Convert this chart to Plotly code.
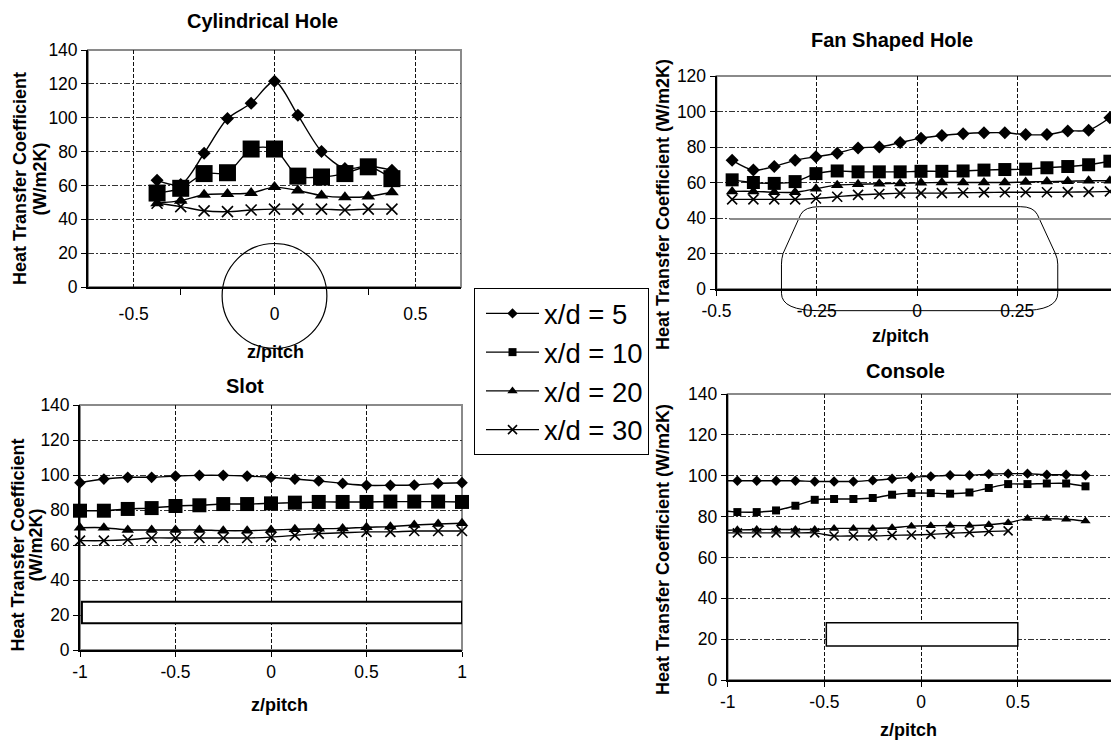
import plotly.graph_objects as go

W, H = 1119, 743
OFF = 8  # the page body adds an 8 px margin; figure coordinates are shifted by it
FW, FH = W - OFF, H - OFF

# ---------------- data ----------------
series_names = ["x/d = 5", "x/d = 10", "x/d = 20", "x/d = 30"]

# Cylindrical Hole
cyl_z = [-0.417, -0.333, -0.25, -0.167, -0.083, 0.0, 0.083, 0.167, 0.25, 0.333, 0.417]
cyl_xd5 = [63, 60.5, 79, 99.5, 108.5, 121.5, 101.5, 80, 70, 71.5, 69]
cyl_xd10 = [55.5, 58.3, 67, 67.5, 81.5, 81.5, 65.5, 65, 67, 71, 64]
cyl_xd20 = [49.5, 51, 54.5, 55, 55.5, 59, 57, 54, 53, 53.5, 56]
cyl_xd30 = [49.5, 47.5, 45, 44.5, 45.5, 46, 46, 46, 45.5, 46, 46]

# Fan Shaped Hole
fan_z = [-0.461, -0.408, -0.356, -0.304, -0.252, -0.199, -0.147, -0.094, -0.042, 0.010,
         0.062, 0.115, 0.167, 0.219, 0.271, 0.324, 0.376, 0.428, 0.481]
fan_xd5 = [72.5, 67, 69, 72.5, 74.5, 76.5, 79.5, 80, 82.5, 85, 86.5, 87.5, 88, 88, 87, 87, 89, 89.5, 96.5]
fan_xd10 = [61.5, 60, 59.5, 60.5, 65, 66.5, 66, 66, 66, 66.3, 66.3, 66.5, 67, 67.3, 67.5, 68.3, 69, 70, 72]
fan_xd20 = [55, 55, 54.5, 54.5, 56.5, 58.5, 59, 59.3, 59.5, 59.8, 60, 60, 60, 60, 60.3, 60.5, 60.7, 61, 61]
fan_xd30 = [50.5, 50.5, 50.5, 50.5, 51, 52, 53, 53.5, 54, 54, 54, 54.2, 54.4, 54.5, 54.5, 54.5, 54.6, 54.7, 55]

# Slot
slot_z = [-1, -0.875, -0.75, -0.625, -0.5, -0.375, -0.25, -0.125, 0, 0.125, 0.25, 0.375,
          0.5, 0.625, 0.75, 0.875, 1]
slot_xd5 = [95.6, 97.7, 98.7, 98.7, 99.4, 99.8, 99.8, 99.4, 98.7, 97.7, 96.6, 95.2, 94.1, 94.1, 94.3, 95.2, 95.6]
slot_xd10 = [79.6, 79.6, 80.6, 81.1, 82.3, 82.7, 83.4, 83.4, 83.8, 84.2, 84.6, 84.6, 84.6, 84.8, 84.8, 84.8, 84.6]
slot_xd20 = [69.9, 69.9, 68.6, 68.6, 68.6, 68.6, 68.2, 68.2, 68.6, 69, 69.3, 69.5, 70.1, 70.5, 71.4, 72, 72.4]
slot_xd30 = [62.5, 62.5, 63, 64, 64, 64, 64, 64, 64.5, 65.5, 66.5, 67, 67.5, 67.5, 68, 68, 68]

# Console
con_z = [-0.95, -0.85, -0.75, -0.65, -0.55, -0.45, -0.35, -0.25, -0.15, -0.05, 0.05,
         0.15, 0.25, 0.35, 0.45, 0.55, 0.65, 0.75, 0.85]
con_xd5 = [97.5, 97.5, 97.5, 97.5, 97.2, 97.2, 97.2, 97.7, 98.5, 99.3, 99.7, 100.2, 100.2,
           100.8, 101, 101, 100.5, 100.5, 100.2]
con_xd10 = [82.2, 82.2, 83, 85.3, 88.2, 88.6, 88.6, 89.1, 90.7, 91.5, 91.5, 91.2, 91.8, 94,
            95.9, 95.9, 96.2, 96.2, 94.8]
con_xd20 = [73.5, 73.7, 73.7, 73.7, 73.7, 74.2, 74.2, 74.2, 74.5, 75.3, 75.5, 75.6, 75.6, 76,
            77, 79, 79, 78.7, 77.8]
con_xd30 = [72, 72, 72, 72, 72, 70.5, 70.5, 70.5, 70.8, 71, 71.3, 71.8, 72.2, 72.7, 73]
# line lead-in from the axis (x = -1) to the first console point
con_lead_z = [-1.0, -0.95]
con_lead = {"x/d = 5": [97.5, 97.5], "x/d = 10": [82.6, 82.2],
            "x/d = 20": [73.3, 73.5], "x/d = 30": [72, 72]}

# ---------------- layout geometry (page pixels) ----------------
panels = {
    "cyl": dict(ax="", xpx=(88, 461), ypx=(50, 287), xr=(-0.6623, 0.6623), yr=(0, 140)),
    "fan": dict(ax="2", xpx=(716.5, 1117.5), ypx=(76, 289), xr=(-0.5, 0.5), yr=(0, 120)),
    "slot": dict(ax="3", xpx=(80, 462), ypx=(405, 650), xr=(-1, 1), yr=(0, 140)),
    "con": dict(ax="4", xpx=(727.7, 1114.5), ypx=(394, 680), xr=(-1, 1), yr=(0, 140)),
}


def px2paper(x, y):
    return (x - OFF) / FW, 1 - (y - OFF) / FH


def d2p(panel, x, y):
    p = panels[panel]
    (xa, xb), (ya, yb) = p["xpx"], p["ypx"]
    (r0, r1), (s0, s1) = p["xr"], p["yr"]
    px = xa + (x - r0) / (r1 - r0) * (xb - xa)
    py = yb - (y - s0) / (s1 - s0) * (yb - ya)
    return px2paper(px, py)


FONT = "Liberation Sans, Arial, sans-serif"
fig = go.Figure()

symbols = ["diamond", "square", "triangle-up", "x-thin"]


def add_series(panel, z, ys, sizes, legend=False, lead=None):
    ax = panels[panel]["ax"]
    for name, y, sym, sz in zip(series_names, ys, symbols, sizes):
        zz = z[: len(y)]
        marker = dict(symbol=sym, size=sz, color="black",
                      line=dict(color="black", width=1.6 if sym == "x-thin" else 0))
        fig.add_trace(go.Scatter(
            x=zz, y=y, mode="lines+markers", name=name,
            line=dict(color="black", width=1.4, shape="spline", smoothing=0.8),
            marker=marker, xaxis="x" + ax, yaxis="y" + ax,
            showlegend=legend, legendgroup=name, cliponaxis=False,
        ))
    if lead:
        for name in series_names:
            fig.add_trace(go.Scatter(
                x=lead[0], y=lead[1][name], mode="lines",
                line=dict(color="black", width=1.4), xaxis="x" + ax, yaxis="y" + ax,
                showlegend=False, hoverinfo="skip",
            ))


add_series("cyl", cyl_z, [cyl_xd5, cyl_xd10, cyl_xd20, cyl_xd30], [10, 17, 12, 11])
add_series("fan", fan_z, [fan_xd5, fan_xd10, fan_xd20, fan_xd30], [10, 13, 11, 10])
add_series("slot", slot_z, [slot_xd5, slot_xd10, slot_xd20, slot_xd30], [9, 14, 11, 10])
add_series("con", con_z, [con_xd5, con_xd10, con_xd20, con_xd30], [8, 8, 9, 9],
           legend=True, lead=(con_lead_z, con_lead))

HGRID = "6px,2px,2px,2px"
VGRID = "4px,2px"

lx, ly = px2paper(474, 288)
layout = dict(
    template="none",
    width=FW, height=FH, margin=dict(l=0, r=0, t=0, b=0, autoexpand=False),
    paper_bgcolor="white", plot_bgcolor="rgba(0,0,0,0)",
    font=dict(family=FONT, color="black", size=17),
    showlegend=True,
    legend=dict(
        x=lx, y=ly, xanchor="left", yanchor="top",
        bgcolor="white", bordercolor="black", borderwidth=1,
        font=dict(family=FONT, size=27.5, color="black"),
        itemwidth=53, indentation=6, tracegroupgap=3, traceorder="normal",
    ),
)

tickfont = dict(family=FONT, size=17.5, color="black")
shapes = []
for key, p in panels.items():
    ax = p["ax"]
    xa, _ = px2paper(p["xpx"][0], 0)
    xb, _ = px2paper(p["xpx"][1], 0)
    _, ya = px2paper(0, p["ypx"][1])
    _, yb = px2paper(0, p["ypx"][0])
    xaxis = dict(domain=(xa, min(xb, 1.0)), range=list(p["xr"]), anchor="y" + ax,
                 showline=True, automargin=False,
                 linecolor="black", linewidth=1.8, ticks="outside", ticklen=5,
                 tickcolor="black", tickwidth=1.2, tickfont=tickfont, zeroline=False,
                 showgrid=True, gridcolor="#111", gridwidth=1, griddash=VGRID,
                 fixedrange=True)
    yaxis = dict(domain=(ya, yb), range=list(p["yr"]), anchor="x" + ax, showline=True,
                 automargin=False,
                 linecolor="black", linewidth=1.8, ticks="outside", ticklen=5,
                 tickcolor="black", tickwidth=1.2, tickfont=tickfont, zeroline=False,
                 showgrid=True, gridcolor="#333", gridwidth=1, griddash=HGRID,
                 tickmode="linear", tick0=0, dtick=20, fixedrange=True)
    if key == "cyl":
        xaxis.update(tickmode="array", tickvals=[-0.5, 0, 0.5], ticktext=["-0.5", "0", "0.5"],
                     ticks="", ticklabelstandoff=10,
                     minor=dict(tickmode="array", tickvals=[-1 / 3, 0, 1 / 3], ticks="outside",
                                ticklen=6, tickcolor="black", tickwidth=1.2, showgrid=False))
    elif key == "fan":
        xaxis.update(tickmode="array", tickvals=[-0.5, -0.25, 0, 0.25, 0.5],
                     ticktext=["-0.5", "-0.25", "0", "0.25", "0.5"])
    else:
        xaxis.update(tickmode="array", tickvals=[-1, -0.5, 0, 0.5, 1],
                     ticktext=["-1", "-0.5", "0", "0.5", "1"])
    layout["xaxis" + ax] = xaxis
    layout["yaxis" + ax] = yaxis
    # gray plot-area frame
    shapes.append(dict(type="rect", xref="x%s domain" % ax, yref="y%s domain" % ax,
                       x0=0, x1=1, y0=0, y1=1, line=dict(color="#8a8a8a", width=2),
                       layer="below"))

fig.update_layout(**layout)

# ---------- decorations: hole shapes ----------
cx0, cy0 = d2p("cyl", -0.186, -36.3)
cx1, cy1 = d2p("cyl", 0.186, 25.7)
shapes.append(dict(type="circle", xref="paper", yref="paper", x0=cx0, x1=cx1, y0=cy0, y1=cy1,
                   line=dict(color="black", width=1.2)))

fan_outline = [
    ("M", [(-0.2425, 46.4)]), ("L", [(0.2575, 46.4)]), ("Q", [(0.29, 46.4), (0.30, 42.0)]),
    ("L", [(0.345, 20.0)]), ("Q", [(0.351, 17.0), (0.351, 14.0)]), ("L", [(0.351, -2.4)]),
    ("Q", [(0.351, -12.2), (0.2575, -12.2)]), ("L", [(-0.2425, -12.2)]),
    ("Q", [(-0.338, -12.2), (-0.338, -2.4)]), ("L", [(-0.338, 14.0)]),
    ("Q", [(-0.338, 17.0), (-0.334, 20.0)]), ("L", [(-0.29, 42.0)]),
    ("Q", [(-0.28, 46.4), (-0.2425, 46.4)]),
]
path = ""
for cmd, pts in fan_outline:
    path += cmd + " " + " ".join("%.5f,%.5f" % d2p("fan", a, b) for a, b in pts) + " "
path += "Z"
shapes.append(dict(type="path", xref="paper", yref="paper", path=path,
                   line=dict(color="black", width=1)))
gx0, gy = d2p("fan", -0.4675, 39.4)
gx1, _ = d2p("fan", 0.5, 39.4)
shapes.append(dict(type="line", xref="paper", yref="paper", x0=gx0, x1=min(gx1, 1.0),
                   y0=gy, y1=gy, line=dict(color="#8c8c8c", width=2)))

shapes.append(dict(type="rect", xref="x3", yref="y3", x0=-0.99, x1=1.0, y0=15.3, y1=27.6,
                   fillcolor="white", line=dict(color="black", width=2)))
shapes.append(dict(type="rect", xref="x4", yref="y4", x0=-0.49, x1=0.5, y0=16.7, y1=28.0,
                   fillcolor="white", line=dict(color="black", width=1.5)))

fig.update_layout(shapes=shapes)

# ---------- titles ----------
ann = []


def text(s, x, y, size, angle=0):
    px, py = px2paper(x, y)
    ann.append(dict(text=s, x=px, y=py, xref="paper", yref="paper", showarrow=False,
                    xanchor="center", yanchor="middle", textangle=angle,
                    font=dict(family=FONT, size=size, color="black")))


text("<b>Cylindrical Hole</b>", 262, 21, 20)
text("<b>Fan Shaped Hole</b>", 892, 40, 20)
text("<b>Slot</b>", 245, 386, 20)
text("<b>Console</b>", 905, 371, 20)

text("<b>z/pitch</b>", 275, 352, 18)
text("<b>z/pitch</b>", 900, 336, 18)
text("<b>z/pitch</b>", 279, 705, 18)
text("<b>z/pitch</b>", 908, 730, 18)

text("<b>Heat Transfer Coefficient</b>", 20, 179, 18, -90)
text("<b>(W/m2K)</b>", 39.5, 179, 18, -90)
text("<b>Heat Transfer Coefficient</b>", 17.5, 545, 18, -90)
text("<b>(W/m2K)</b>", 35.5, 545, 18, -90)
text("<b>Heat Transfer Coefficient (W/m2K)</b>", 663, 205, 18, -90)
text("<b>Heat Transfer Coefficient (W/m2K)</b>", 663, 550, 18, -90)

fig.update_layout(annotations=ann)

fig.write_html("out.html")
